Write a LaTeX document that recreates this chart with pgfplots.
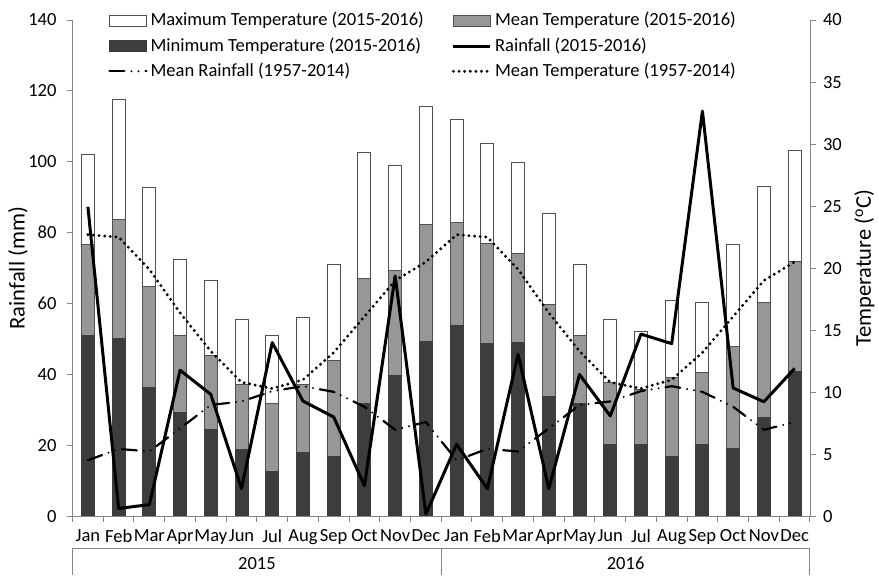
\documentclass[border=0pt]{standalone}
\usepackage{fontspec}
\setmainfont{Carlito}
\usepackage{pgfplots}
\usepackage{pgfplotstable}
\pgfplotsset{compat=1.18}

\definecolor{axisgray}{HTML}{868686}
\definecolor{meangray}{HTML}{979797}
\definecolor{mingray}{HTML}{3D3D3D}
\definecolor{edgegray}{HTML}{505050}

% Monthly temperatures (degC), Jan 2015 .. Dec 2016 at x = 0..23
\pgfplotstableread{
m  tmax  tmean tmin  tclim
0  29.2  21.9  14.55 22.7
1  33.6  23.95 14.3  22.5
2  26.5  18.5  10.35 19.9
3  20.7  14.55 8.4   16.4
4  19.0  12.95 7.0   13.3
5  15.85 10.65 5.4   10.8
6  14.6  9.1   3.65  10.3
7  16.0  10.6  5.15  11.0
8  20.3  12.55 4.8   13.2
9  29.3  19.15 9.1   16.1
10 28.3  19.8  11.35 19.0
11 33.0  23.5  14.05 20.5
12 32.0  23.65 15.4  22.7
13 30.05 22.0  13.9  22.5
14 28.5  21.2  14.0  19.9
15 24.4  17.1  9.65  16.4
16 20.3  14.6  9.1   13.3
17 15.85 10.8  5.8   10.8
18 14.9  10.2  5.75  10.3
19 17.4  11.2  4.85  11.0
20 17.25 11.55 5.8   13.2
21 21.9  13.7  5.5   16.1
22 26.55 17.25 8.0   19.0
23 29.5  20.55 11.7  20.5
}\temps

% Monthly rainfall (mm) and long-term mean rainfall (mm)
\pgfplotstableread{
m  rain  rclim
0  87.3  15.8
1  2.2   19.0
2  3.3   18.3
3  41.2  24.8
4  34.4  31.4
5  7.8   32.4
6  49.0  35.3
7  32.5  36.7
8  28.0  35.1
9  8.6   30.9
10 67.8  24.4
11 0.6   26.6
12 20.3  15.8
13 7.8   19.0
14 45.7  18.3
15 7.8   24.8
16 40.0  31.4
17 28.3  32.4
18 51.4  35.3
19 48.7  36.7
20 114.3 35.1
21 36.2  30.9
22 32.3  24.4
23 41.7  26.6
}\rain

\newcommand{\smallfont}{\fontsize{9.3}{11}\selectfont}
\newcommand{\labelfont}{\fontsize{11.3}{13}\selectfont}

\begin{document}
\begin{tikzpicture}[font=\smallfont]
\pgfplotsset{
  base/.style={
    scale only axis, width=368.5bp, height=248bp,
    xmin=-0.5, xmax=23.5, ymin=0,
    axis line style={axisgray, -},
    tick style={axisgray, line width=0.5bp},
    tick align=outside,
    major tick length=3bp,
    ticklabel style={font=\smallfont},
    /pgf/number format/assume math mode=true,
    label style={font=\labelfont},
  },
  barleg/.style={legend image code/.code={
      \draw[##1] (0bp,-2.75bp) rectangle (18.5bp,2.75bp);}},
  lineleg/.style={legend image code/.code={
      \draw[##1] (0bp,0bp) -- (18.5bp,0bp);}},
  tclimstyle/.style={black, line width=1.6bp, line cap=round,
      dash pattern=on 0bp off 2.8bp},
  rclimstyle/.style={black, line width=1.1bp, line cap=round,
      dash pattern=on 7.5bp off 3.5bp on 0bp off 3.5bp on 0bp off 3.5bp},
  rainstyle/.style={black, line width=1.5bp, line join=round},
}

% Temperature axis (right) with the bars and the long-term mean temperature
\begin{axis}[base,
  axis x line=none, axis y line*=right,
  ymax=40, ytick={0,5,...,40},
  ylabel={Temperature (\textsuperscript{o}C)},
  every axis y label/.append style={at={(axis description cs:1.074,0.5)}, anchor=center},
]
\addplot[ybar, bar width=6.5bp, bar shift=0pt, fill=white, draw=edgegray, line width=0.5bp]
  table[x=m, y=tmax]{\temps};
\addplot[ybar, bar width=6.5bp, bar shift=0pt, fill=meangray, draw=edgegray, line width=0.5bp]
  table[x=m, y=tmean]{\temps};
\addplot[ybar, bar width=6.5bp, bar shift=0pt, fill=mingray, draw=mingray, line width=0.5bp]
  table[x=m, y=tmin]{\temps};
\addplot[tclimstyle] table[x=m, y=tclim]{\temps};
\end{axis}

% Rainfall axis (left) with month ticks, rainfall lines and the legend
\begin{axis}[base,
  axis x line*=bottom, axis y line*=left,
  ymax=140, ytick={0,20,...,140},
  ylabel={Rainfall (mm)},
  every axis y label/.append style={at={(axis description cs:-0.074,0.5)}, anchor=center},
  yticklabel style={xshift=-1.5bp},
  xtick={0,...,23},
  xticklabels={Jan,Feb,Mar,Apr,May,Jun,Jul,Aug,Sep,Oct,Nov,Dec,
               Jan,Feb,Mar,Apr,May,Jun,Jul,Aug,Sep,Oct,Nov,Dec},
  major x tick style={draw=none},
  minor xtick={-0.5,0.5,...,23.5},
  minor tick length=3bp,
  clip=false,
  legend columns=2,
  legend cell align=left,
  legend style={draw=none, fill=none, at={(0.048,1.019)}, anchor=north west,
    inner sep=0pt, row sep=2.2bp, font=\smallfont,
    nodes={inner sep=1bp, text height=6.5bp, text depth=1.8bp},
    /tikz/column 1/.style={column sep=0.5bp},
    /tikz/column 2/.style={column sep=13bp},
    /tikz/column 3/.style={column sep=0.5bp}},
]
\addlegendimage{barleg, fill=white, draw=edgegray, line width=0.5bp}
\addlegendentry{Maximum Temperature (2015-2016)}
\addlegendimage{barleg, fill=meangray, draw=edgegray, line width=0.5bp}
\addlegendentry{Mean Temperature (2015-2016)}
\addlegendimage{barleg, fill=mingray, draw=mingray, line width=0.5bp}
\addlegendentry{Minimum Temperature (2015-2016)}
\addplot[rainstyle, lineleg] table[x=m, y=rain]{\rain};
\addlegendentry{Rainfall (2015-2016)}
\addplot[rclimstyle, lineleg] table[x=m, y=rclim]{\rain};
\addlegendentry{Mean Rainfall (1957-2014)}
\addlegendimage{tclimstyle, lineleg}
\addlegendentry{Mean Temperature (1957-2014)}

% year grouping below the month labels
\draw[axisgray, line width=0.5bp] ([yshift=-16bp]rel axis cs:0,0) -- ([yshift=-16bp]rel axis cs:1,0);
\draw[axisgray, line width=0.5bp] ([yshift=-16bp]rel axis cs:0,0) -- ([yshift=-29.5bp]rel axis cs:0,0);
\draw[axisgray, line width=0.5bp] ([yshift=-16bp]rel axis cs:0.5,0) -- ([yshift=-29.5bp]rel axis cs:0.5,0);
\draw[axisgray, line width=0.5bp] ([yshift=-16bp]rel axis cs:1,0) -- ([yshift=-29.5bp]rel axis cs:1,0);
\node[font=\smallfont] at ([yshift=-23.5bp]rel axis cs:0.25,0) {2015};
\node[font=\smallfont] at ([yshift=-23.5bp]rel axis cs:0.75,0) {2016};
\coordinate (bl) at (rel axis cs:0,0);
\coordinate (tr) at (rel axis cs:1,1);
\end{axis}

\pgfresetboundingbox
\path ([shift={(-36.25bp,-29.5bp)}]bl) rectangle ([shift={(34.5bp,10bp)}]tr);
\end{tikzpicture}
\end{document}
